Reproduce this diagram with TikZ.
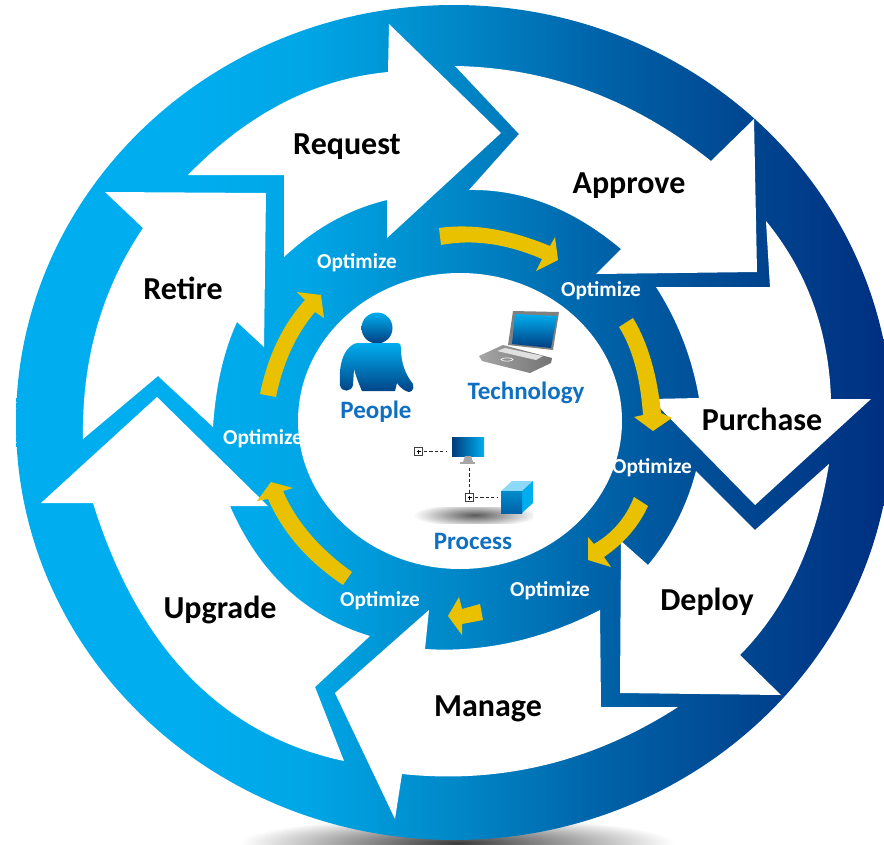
\documentclass[tikz,border=0pt]{standalone}
\usepackage{fontspec}
\setmainfont{Carlito}
\definecolor{ga}{HTML}{00AEEF}
\definecolor{gb}{HTML}{00A6E6}
\definecolor{gc}{HTML}{0088C8}
\definecolor{gd}{HTML}{0062A8}
\definecolor{ge}{HTML}{00458F}
\definecolor{gf}{HTML}{002E80}
\definecolor{arrowyellow}{HTML}{E9C100}
\definecolor{labelblue}{HTML}{0F6FC1}
\definecolor{shadowdark}{HTML}{3A3A3A}
\pgfdeclarehorizontalshading{ringshade}{100bp}{
  color(0bp)=(ga); color(25bp)=(ga); color(34bp)=(ga); color(41.5bp)=(gb);
  color(50bp)=(gc); color(58.5bp)=(gd); color(67bp)=(ge); color(75bp)=(gf); color(100bp)=(gf)}
\tikzset{
  whitearrow/.style={fill=white,draw=none},
  yellowarrow/.style={fill=arrowyellow,draw=none},
  steplabel/.style={font=\fontsize{32}{35}\selectfont\bfseries,text=black,inner sep=0pt},
  optlabel/.style={font=\fontsize{21.3}{24}\selectfont\bfseries,text=white,inner sep=0pt},
  corelabel/.style={font=\fontsize{25}{28}\selectfont\bfseries,text=labelblue,inner sep=0pt},
  smallbox/.style={draw=black!75,line width=1pt,fill=white},
  linkline/.style={draw=black!85,line width=.9pt,dash pattern=on 3.2pt off 2.2pt}
}
\begin{document}
\begin{tikzpicture}[x=1pt,y=-1pt]
\useasboundingbox (0,0) rectangle (884,844);
\clip (0,0) rectangle (884,844);
\fill[white] (0,0) rectangle (884,844);
% ground shadow
\shade[inner color=shadowdark,outer color=white] (457,843) ellipse [x radius=217pt,y radius=26pt];
% ring
\begin{scope}
\clip (454,422.5) ellipse [x radius=438pt,y radius=417.5pt];
\shade[shading=ringshade] (16,0) rectangle (892,844);
\end{scope}
% centre
\fill[white] (460,421) ellipse [x radius=162pt,y radius=148pt];
% Request
\fill[whitearrow] (389,24) -- (501,133) -- (387,238) -- (387,200)
  .. controls (349.3,209) and (315,228) .. (284,257)
  -- (284,175) -- (188,175)
  .. controls (248,113.3) and (314.7,79) .. (388,72) -- cycle;
% Approve
\fill[whitearrow] (455,66)
  .. controls (548.3,67.6) and (633.7,99.3) .. (711,161)
  -- (754,119) -- (757,272) -- (596,274) -- (621,249)
  .. controls (573,208.7) and (522.3,189) .. (469,190)
  -- (519,134) -- cycle;
% Purchase
\fill[whitearrow] (656,287) -- (770,287) -- (766,221)
  .. controls (807,271) and (828.7,330.3) .. (831,399)
  -- (871,399) -- (755,505) -- (651,399) -- (699,398)
  .. controls (692,357.6) and (677.7,320.6) .. (656,287) -- cycle;
% Deploy
\fill[whitearrow] (621,541) -- (620,693) -- (781,695) -- (740,655)
  .. controls (786.4,608) and (816,544.4) .. (829,464)
  -- (755,530) -- (696,471)
  .. controls (686.7,506.4) and (670.7,537.7) .. (648,565) -- cycle;
% Manage
\fill[whitearrow] (395,819) -- (335,693) -- (429,610) -- (425,649)
  .. controls (484,652.7) and (542.3,639.7) .. (600,610)
  -- (601,707) -- (678,707)
  .. controls (592.7,762) and (500.7,784.3) .. (402,774) -- cycle;
% Upgrade
\fill[whitearrow] (41,503) -- (157,397) -- (268,506) -- (230,506)
  .. controls (259.3,573.3) and (306,616.7) .. (370,636)
  -- (315,687) -- (344,761)
  .. controls (222.3,735) and (138.6,649) .. (93,503) -- cycle;
% Retire
\fill[whitearrow] (105,192) -- (266,193) -- (264,347) -- (237,322)
  .. controls (223.7,351) and (215.7,386) .. (213,427)
  -- (158,376) -- (83,439)
  .. controls (81.6,360) and (101.6,289.7) .. (143,228) -- cycle;
% yellow arrows
\fill[yellowarrow] (439,228)
  .. controls (472.7,223.3) and (509.7,229.3) .. (550,246)
  -- (555,237) -- (558,260) -- (536,271) -- (542,259)
  .. controls (506.3,243.6) and (472.6,239) .. (441,245) -- cycle;
\fill[yellowarrow] (633,318)
  .. controls (647.7,342.3) and (657,374) .. (661,413)
  -- (672,418) -- (653,431) -- (634,417) -- (643,415)
  .. controls (640.4,377.7) and (632.4,348.4) .. (619,327) -- cycle;
\fill[yellowarrow] (648,506)
  .. controls (638.7,526.3) and (624,543.3) .. (604,557)
  -- (611,567) -- (588,560) -- (588,537) -- (594,544)
  .. controls (612.7,533) and (626,517.4) .. (634,497) -- cycle;
\fill[yellowarrow] (480,604) -- (462,609) -- (459,597) -- (448,616) -- (462,635) -- (462,624) -- (483,620) -- cycle;
\fill[yellowarrow] (343,585)
  .. controls (308,561.7) and (283,533) .. (268,499)
  -- (257,501) -- (271,482) -- (293,488) -- (283,491)
  .. controls (296,521.3) and (319,548.3) .. (352,572) -- cycle;
\fill[yellowarrow] (260,394)
  .. controls (267.7,356) and (282.7,324.7) .. (305,300)
  -- (297,292) -- (321,295) -- (324,318) -- (315,312)
  .. controls (296,334.3) and (283,362.7) .. (276,397) -- cycle;
% step labels
\node[steplabel] (request) at (347,146.5) {Request};
\node[steplabel] (approve) at (629,185.5) {Approve};
\node[steplabel] (purchase) at (762,419) {Purchase};
\node[steplabel] (deploy) at (707,601.5) {Deploy};
\node[steplabel] (manage) at (488,708.5) {Manage};
\node[steplabel] (upgrade) at (220,609.5) {Upgrade};
\node[steplabel] (retire) at (183,288) {Retire};
% optimize labels
\node[optlabel] (opt1) at (357,263) {Optimize};
\node[optlabel] (opt2) at (601,291) {Optimize};
\node[optlabel] (opt3) at (652,468) {Optimize};
\node[optlabel] (opt4) at (550,591) {Optimize};
\node[optlabel] (opt5) at (380,601) {Optimize};
\node[optlabel] (opt6) at (263,439) {Optimize};
% core labels
\node[corelabel] (people) at (376,412) {People};
\node[corelabel] (technology) at (526,393) {Technology};
\node[corelabel] (process) at (473,541) {Process};
% person icon
\shade[top color=ga,bottom color=ge!90!black] (377,328) circle (15.5pt);
\shade[top color=ga,bottom color=ge!90!black]
  (358,343) -- (397,343) .. controls (401,343) and (401,346) .. (401,349)
  .. controls (401,362) and (405,374) .. (413,384)
  .. controls (415,390) and (410,394) .. (406,391)
  .. controls (402,389) and (399,386) .. (397,383)
  -- (395,391) -- (362,391) .. controls (358,382) and (356,376) .. (354,369)
  -- (353,385) .. controls (352,392) and (341,393) .. (340,385)
  .. controls (339,370) and (341,358) .. (347,350)
  .. controls (350,346) and (354,343) .. (358,343) -- cycle;
% laptop icon
\shade[left color=black!35,right color=black!55] (479,356) -- (503,345) -- (552,358) -- (551,363) -- (530,373) -- (482,361) -- cycle;
\fill[black!12] (497,351) -- (505,348) -- (543,356) -- (536,360) -- cycle;
\fill[black!50] (513,311) -- (559,312) -- (553,350) -- (508,345) -- cycle;
\shade[top color=ga,bottom color=ge!90!black] (515,314) -- (557,316) -- (551,348) -- (512,344) -- cycle;
\draw[white,line width=.6pt] (507,359.5) ellipse [x radius=6pt,y radius=1.6pt];
% process icon
\begin{scope}
\clip (413,507) rectangle (533,523);
\shade[inner color=black!65,outer color=white] (475,515) ellipse [x radius=62pt,y radius=12pt];
\end{scope}
\shade[left color=ge!85!black,right color=ga] (452,437) rectangle (484,456);
\fill[black!35] (465,456) -- (471,456) -- (473,462) -- (463,462) -- cycle;
\fill[black!35] (460,462) rectangle (475,464);
\draw[linkline] (424,451) -- (447,451);
\draw[linkline] (469,468) -- (469,493);
\draw[linkline] (475,497) -- (498,497);
\node[smallbox,minimum size=8pt,inner sep=0pt] (boxa) at (418.5,451.5) {};
\node[smallbox,minimum size=8pt,inner sep=0pt] (boxb) at (469.5,497.5) {};
\draw[black,line width=.6pt] (416.5,451.5) -- (420.5,451.5) (418.5,449.5) -- (418.5,453.5);
\draw[black,line width=.6pt] (467.5,497.5) -- (471.5,497.5) (469.5,495.5) -- (469.5,499.5);
\fill[cyan!45] (501,491) -- (512,481) -- (533,481) -- (522,491) -- cycle;
\fill[ga] (522,491) -- (533,481) -- (533,503) -- (522,513) -- cycle;
\shade[top color=gc!90!ga,bottom color=gd] (501,491) rectangle (522,513);
\end{tikzpicture}
\end{document}
